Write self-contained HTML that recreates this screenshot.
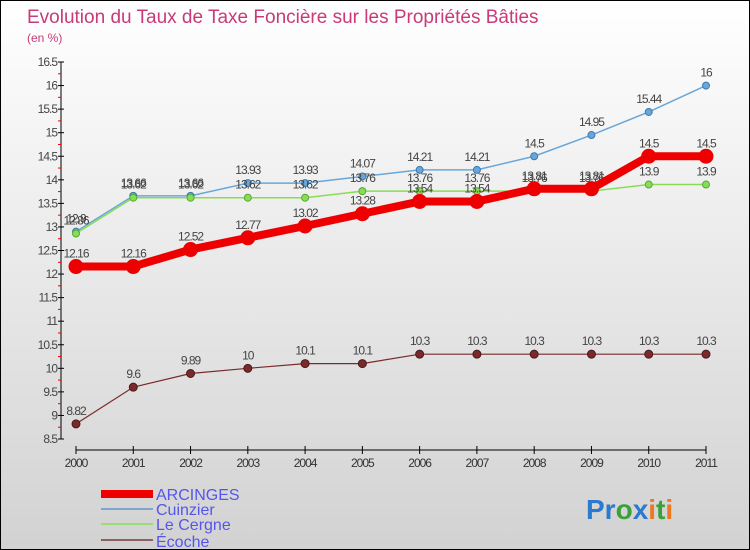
<!DOCTYPE html>
<html><head><meta charset="utf-8"><style>
body{margin:0}
#c{width:750px;height:550px;position:relative;box-sizing:border-box;border:1px solid #000;background:linear-gradient(#fff,#d2d2d2);font-family:"Liberation Sans",sans-serif;overflow:hidden}
</style></head><body>
<div id="c">
<svg id="s" width="750" height="550" style="position:absolute;left:0;top:0">
<text x="26" y="22" font-size="19" fill="#c83a78">Evolution du Taux de Taxe Foncière sur les Propriétés Bâties</text>
<text x="26" y="41" font-size="12" fill="#c83a78">(en %)</text>
<text x="155" y="499" font-size="16" fill="#5555ee">ARCINGES</text>
<text x="155" y="514" font-size="16" fill="#5555ee">Cuinzier</text>
<text x="155" y="529" font-size="16" fill="#5555ee">Le Cergne</text>
<text x="155" y="546" font-size="16" fill="#5555ee">Écoche</text>
<rect x="100" y="489" width="52" height="8" fill="#e00"/>
<rect x="100" y="507" width="52" height="2" fill="#7aa8cc"/>
<rect x="100" y="522" width="52" height="2" fill="#99dd77"/>
<rect x="100" y="538" width="52" height="2" fill="#8a6060"/>
<text x="585" y="518" font-size="28" font-weight="bold"><tspan fill="#2a7ad0">Pr</tspan><tspan fill="#3aa03a">o</tspan><tspan fill="#2a7ad0">x</tspan><tspan fill="#ee7722">i</tspan><tspan fill="#3aa03a">t</tspan><tspan fill="#ee7722">i</tspan></text>
</svg>
</div>
<script>
const years=["2000","2001","2002","2003","2004","2005","2006","2007","2008","2009","2010","2011"];
const arcinges=[12.16,12.16,12.52,12.77,13.02,13.28,13.54,13.54,13.81,13.81,14.5,14.5];
const cuinzier=[12.9,13.66,13.66,13.93,13.93,14.07,14.21,14.21,14.5,14.95,15.44,16];
const leCergne=[12.86,13.62,13.62,13.62,13.62,13.76,13.76,13.76,13.76,13.76,13.9,13.9];
const ecoche=[8.82,9.6,9.89,10,10.1,10.1,10.3,10.3,10.3,10.3,10.3,10.3];
const yTicks=[8.5,9,9.5,10,10.5,11,11.5,12,12.5,13,13.5,14,14.5,15,15.5,16,16.5];
const NS="http://www.w3.org/2000/svg",s=document.getElementById('s');
const X=i=>75+i*(630/(years.length-1));
const Y=v=>438-(v-8.5)*(377/8);
function mk(t,a,p){const e=document.createElementNS(NS,t);for(const k in a)e.setAttribute(k,a[k]);(p||s).appendChild(e);return e;}
let ax=mk('line',{x1:60,y1:Y(16.5),x2:60,y2:Y(8.5),stroke:'#000'});


yTicks.forEach((v,i)=>{
 mk('line',{x1:57,x2:63,y1:Y(v),y2:Y(v),stroke:'#000'});
 if(i<yTicks.length-1){const m=mk('line',{x1:57,x2:60,y1:Y(v+0.25),y2:Y(v+0.25),stroke:'#e00'});}
 const t=mk('text',{x:56,y:Y(v)+4,'font-size':12,'text-anchor':'end',fill:'#444','letter-spacing':'-1'});t.textContent=v;
 
 
});
let xa=mk('line',{x1:X(0),x2:X(11),y1:449,y2:449,stroke:'#000'});


years.forEach((y,i)=>{
 mk('line',{x1:X(i),x2:X(i),y1:445,y2:453,stroke:'#000'});
 const t=mk('text',{x:X(i),y:466,'font-size':12,'text-anchor':'middle',fill:'#333','letter-spacing':'-1'});t.textContent=y;
 
 
});
function series(d,col,w,r,name,dark){
 const g=mk('g',{});
 
 
 mk('polyline',{points:d.map((v,i)=>X(i)+','+Y(v)).join(' '),fill:'none',stroke:col,'stroke-width':w},g);
 d.forEach((v,i)=>{
  const c=mk('circle',{cx:X(i),cy:Y(v),r:r,fill:col,stroke:dark,'stroke-width':1},g);
  
  
  const t=mk('text',{x:X(i),y:Y(v)-9,'font-size':12,'text-anchor':'middle',fill:'#444','letter-spacing':'-1'},g);t.textContent=v;
 });
}
series(ecoche,'#7a2a2a',1.2,4,'ecoche','#4a1a1a');
series(cuinzier,'#6aa6d8',1.5,3.5,'cuinzier','#3a7ab0');
series(leCergne,'#88dd55',1.5,3.5,'le-cergne','#55aa33');
series(arcinges,'#e00',8,7,'arcinges','#e00');
</script>
</body></html>
